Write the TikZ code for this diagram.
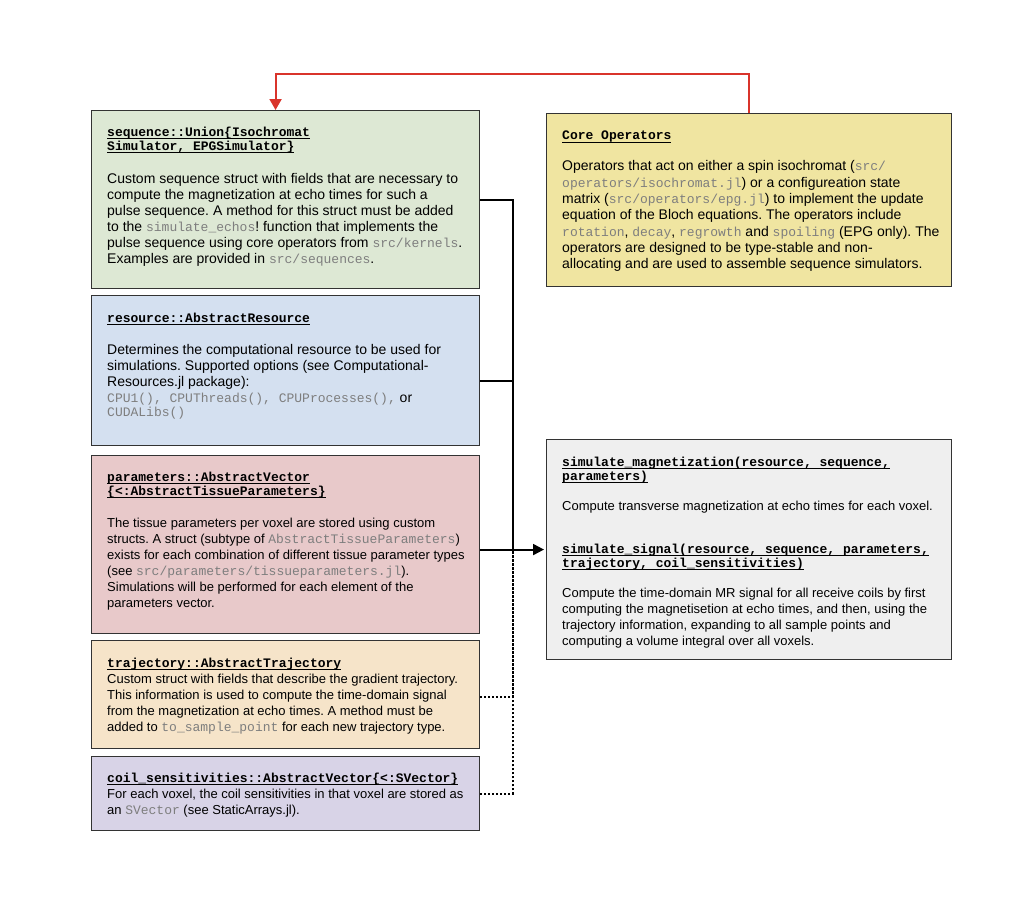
\documentclass[tikz,border=0pt]{standalone}
\usepackage{fontspec}
\setmainfont{Liberation Sans}
\setmonofont{Liberation Mono}
\usetikzlibrary{positioning,arrows.meta}
\frenchspacing

\definecolor{seqgreen}{HTML}{DDE8D4}
\definecolor{resblue}{HTML}{D4E0F0}
\definecolor{parred}{HTML}{E8C9CA}
\definecolor{trajorange}{HTML}{F6E4C9}
\definecolor{coilpurple}{HTML}{D8D3E7}
\definecolor{coreyellow}{HTML}{F0E5A1}
\definecolor{simgrey}{HTML}{EFEFEF}
\definecolor{codegrey}{HTML}{7E7E7E}
\definecolor{linkred}{HTML}{D9342B}

\newsavebox\hdbox
\newcommand{\hd}[1]{\sbox\hdbox{\fontsize{13}{16}\selectfont\ttfamily\bfseries #1}%
    \rlap{\rule[-2.5pt]{\wd\hdbox}{0.9pt}}\usebox\hdbox}
\newcommand{\cd}[1]{{\color{codegrey}\fontsize{13}{16}\selectfont\ttfamily #1}}

\tikzset{
    box/.style={draw=black!80, line width=1.1pt, anchor=north west, inner sep=0pt, minimum width=388pt},
    txt/.style={anchor=north west, inner sep=0pt, align=left, font=\fontsize{13}{16}\selectfont},
    bigtxt/.style={txt, font=\fontsize{14}{16}\selectfont},
    bus/.style={line width=2pt},
    dotbus/.style={line width=2pt, dash pattern=on 2pt off 2pt},
}

\begin{document}
\begin{tikzpicture}[x=1pt, y=-1pt]

    \useasboundingbox (0,0) rectangle (1024,910);

    % Input boxes on the left
    \node[box, fill=seqgreen, minimum height=178pt] (seq) at (91,110) {};
    \node[box, fill=resblue, minimum height=150pt] (res) at (91,295) {};
    \node[box, fill=parred, minimum height=178pt] (par) at (91,455) {};
    \node[box, fill=trajorange, minimum height=108pt] (traj) at (91,640) {};
    \node[box, fill=coilpurple, minimum height=74pt] (coil) at (91,756) {};

    % Boxes on the right
    \node[box, fill=coreyellow, minimum width=405pt, minimum height=173pt] (core) at (546,113) {};
    \node[box, fill=simgrey, minimum width=405pt, minimum height=220pt] (sim) at (546,439) {};

    % Texts inside the boxes
    \node[bigtxt, below right=17pt and 16pt of seq.north west] (seqtxt) {%
        \hd{sequence::Union\{Isochromat}\\[-2pt]
        \hd{Simulator, EPGSimulator\}}\\[17pt]
        Custom sequence struct with fields that are necessary to\\
        compute the magnetization at echo times for such a\\
        pulse sequence. A method for this struct must be added\\
        to the \cd{simulate\_echos}! function that implements the\\
        pulse sequence using core operators from \cd{src/kernels}.\\
        Examples are provided in \cd{src/sequences}.};

    \node[bigtxt, below right=18pt and 16pt of res.north west] (restxt) {%
        \hd{resource::AbstractResource}\\[16pt]
        Determines the computational resource to be used for\\
        simulations. Supported options (see Computational-\\
        Resources.jl package):\\
        \cd{CPU1(), CPUThreads(), CPUProcesses(),} or\\[-2pt]
        \cd{CUDALibs()}};

    \node[txt, below right=17pt and 16pt of par.north west] (partxt) {%
        \hd{parameters::AbstractVector}\\[-2pt]
        \hd{\{<:AbstractTissueParameters\}}\\[16pt]
        The tissue parameters per voxel are stored using custom\\
        structs. A struct (subtype of \cd{AbstractTissueParameters})\\
        exists for each combination of different tissue parameter types\\
        (see \cd{src/parameters/tissueparameters.jl}).\\
        Simulations will be performed for each element of the\\
        parameters vector.};

    \node[txt, below right=18pt and 16pt of traj.north west] (trajtxt) {%
        \hd{trajectory::AbstractTrajectory}\\
        Custom struct with fields that describe the gradient trajectory.\\
        This information is used to compute the time-domain signal\\
        from the magnetization at echo times. A method must be\\
        added to \cd{to\_sample\_point} for each new trajectory type.};

    \node[txt, below right=17pt and 16pt of coil.north west] (coiltxt) {%
        \hd{coil\_sensitivities::AbstractVector\{<:SVector\}}\\
        For each voxel, the coil sensitivities in that voxel are stored as\\
        an \cd{SVector} (see StaticArrays.jl).};

    \node[bigtxt, below right=18pt and 16pt of core.north west] (coretxt) {%
        \hd{Core Operators}\\[15pt]
        Operators that act on either a spin isochromat (\cd{src/}\\[0.3pt]
        \cd{operators/isochromat.jl}) or a configureation state\\[0.3pt]
        matrix (\cd{src/operators/epg.jl}) to implement the update\\[0.3pt]
        equation of the Bloch equations. The operators include\\[0.3pt]
        \cd{rotation}, \cd{decay}, \cd{regrowth} and \cd{spoiling} (EPG only). The\\[0.3pt]
        operators are designed to be type-stable and non-\\[0.3pt]
        allocating and are used to assemble sequence simulators.};

    \node[txt, below right=18pt and 16pt of sim.north west] (simtxt) {%
        \hd{simulate\_magnetization(resource, sequence,}\\[-2pt]
        \hd{parameters)}\\[14pt]
        Compute transverse magnetization at echo times for each voxel.\\[27pt]
        \hd{simulate\_signal(resource, sequence, parameters,}\\[-2pt]
        \hd{trajectory, coil\_sensitivities)}\\[14pt]
        Compute the time-domain MR signal for all receive coils by first\\
        computing the magnetisetion at echo times, and then, using the\\
        trajectory information, expanding to all sample points and\\
        computing a volume integral over all voxels.};

    % Junction where the inputs meet
    \coordinate (join) at (513,549);

    % Solid connectors from the inputs
    \draw[bus] (seq.east) -| (join);
    \draw[bus] ([yshift=-10pt]res.east) -| (join);
    \draw[bus, -{Triangle[length=11pt, width=11pt]}, shorten >=2pt] ([yshift=-5pt]par.east) -- (sim.west);

    % Dotted connectors from trajectory and coils
    \draw[dotbus] ([yshift=-2pt]traj.east) -| (join);
    \draw[dotbus] (coil.east) -| (join);

    % Core operators feed the sequence
    \draw[linkred, line width=2pt, -{Triangle[length=11pt, width=12pt]}]
        (core.north) -- ++(0,-39) -| ([xshift=-10pt]seq.north);

\end{tikzpicture}
\end{document}
